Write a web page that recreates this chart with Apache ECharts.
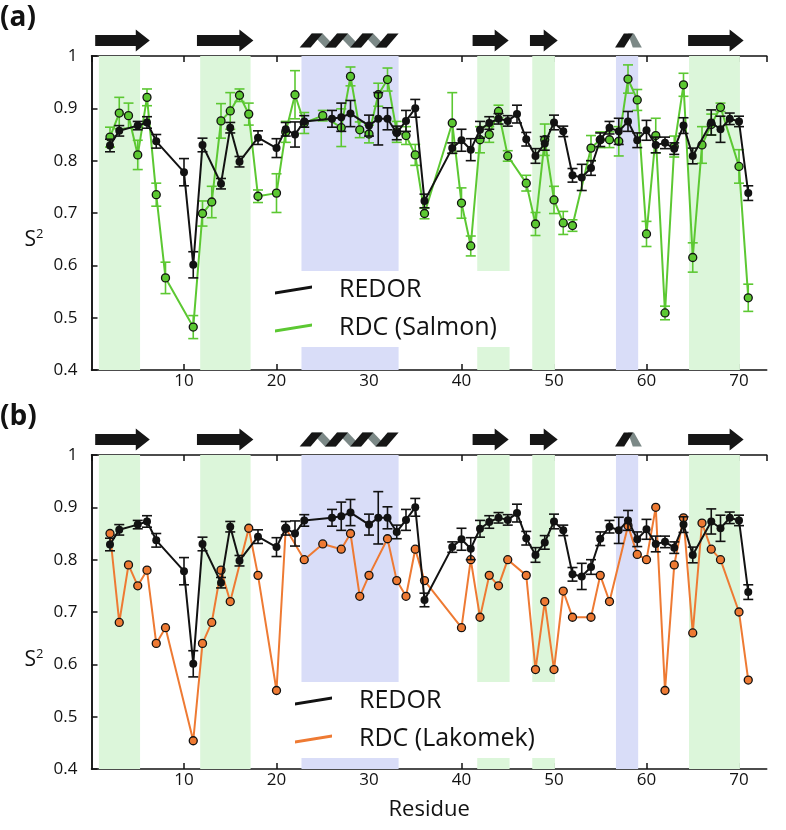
<!DOCTYPE html>
<html><head><meta charset="utf-8">
<script src="https://cdn.jsdelivr.net/npm/echarts@6/dist/echarts.min.js"></script>
<style>html,body{margin:0;padding:0;background:#fff}#c{width:786px;height:830px}</style>
</head><body><div id="c"></div>
<script>
// ---------------- data ----------------
const xMin = 0, xMax = 73, xStep = 10;
const yMin = 0.4, yMax = 1, yStep = 0.1;

const redorRes = [2,3,5,6,7,10,11,12,14,15,16,18,20,21,22,23,26,27,28,30,31,32,33,34,35,36,39,40,41,42,43,44,45,46,47,48,49,50,51,52,53,54,55,56,57,58,59,60,61,62,63,64,65,67,68,69,70,71];
const redorS2 = [0.829,0.857,0.867,0.873,0.837,0.778,0.601,0.830,0.756,0.863,0.798,0.844,0.824,0.860,0.850,0.875,0.880,0.883,0.890,0.867,0.880,0.880,0.853,0.876,0.900,0.723,0.824,0.839,0.821,0.859,0.872,0.880,0.876,0.889,0.841,0.809,0.833,0.873,0.856,0.772,0.768,0.786,0.840,0.863,0.856,0.875,0.839,0.858,0.830,0.834,0.823,0.867,0.809,0.873,0.860,0.880,0.875,0.738];
const redorErr = [0.012,0.010,0.008,0.011,0.013,0.026,0.025,0.013,0.010,0.010,0.010,0.013,0.018,0.013,0.024,0.011,0.016,0.027,0.025,0.020,0.050,0.021,0.013,0.020,0.017,0.013,0.010,0.021,0.021,0.016,0.012,0.010,0.010,0.017,0.013,0.014,0.013,0.014,0.010,0.013,0.025,0.014,0.013,0.012,0.025,0.019,0.014,0.019,0.015,0.011,0.011,0.015,0.015,0.024,0.025,0.011,0.010,0.014];

const salmonRes = [2,3,4,5,6,7,8,11,12,13,14,15,16,17,18,20,21,22,23,25,27,28,29,30,31,32,33,34,35,36,39,40,41,42,43,44,45,47,48,49,50,51,52,54,55,56,57,58,59,60,61,62,63,64,65,66,67,68,70,71];
const salmonS2 = [0.845,0.891,0.886,0.811,0.921,0.735,0.576,0.482,0.699,0.721,0.876,0.895,0.925,0.889,0.732,0.738,0.855,0.926,0.872,0.886,0.863,0.961,0.859,0.851,0.926,0.955,0.855,0.848,0.811,0.699,0.872,0.719,0.637,0.840,0.850,0.894,0.809,0.757,0.679,0.840,0.725,0.681,0.676,0.824,0.840,0.840,0.837,0.956,0.916,0.660,0.848,0.509,0.827,0.945,0.615,0.830,0.869,0.902,0.789,0.538];
const salmonErr = [0.019,0.030,0.024,0.028,0.016,0.022,0.030,0.022,0.024,0.030,0.033,0.035,0.012,0.021,0.012,0.037,0.020,0.046,0.020,0.010,0.036,0.018,0.015,0.017,0.022,0.022,0.020,0.017,0.020,0.010,0.058,0.029,0.019,0.025,0.015,0.012,0.010,0.015,0.022,0.030,0.026,0.022,0.011,0.024,0.015,0.015,0.028,0.027,0.020,0.024,0.033,0.013,0.020,0.022,0.028,0.035,0.020,0.008,0.032,0.026];

const lakomekRes = [2,3,4,5,6,7,8,11,12,13,14,15,17,18,20,21,23,25,27,28,29,30,32,33,34,35,36,40,41,42,43,44,45,47,48,49,50,51,52,54,55,56,58,59,60,61,62,63,64,65,66,67,68,70,71];
const lakomekS2 = [0.85,0.68,0.79,0.75,0.78,0.64,0.67,0.454,0.64,0.68,0.78,0.72,0.86,0.77,0.55,0.86,0.80,0.83,0.82,0.85,0.73,0.77,0.84,0.76,0.73,0.82,0.76,0.67,0.80,0.69,0.77,0.75,0.80,0.77,0.59,0.72,0.59,0.74,0.69,0.69,0.77,0.72,0.865,0.81,0.80,0.90,0.55,0.79,0.88,0.66,0.87,0.82,0.80,0.70,0.57];

const greenBands = [[0.8,5.25],[11.75,17.2],[41.7,45.2],[47.65,50.1],[64.6,70.1]];
const blueBands = [[22.7,33.2],[56.7,59.1]];
const strands = [[0.4,6.3],[11.4,17.5],[41.2,45.1],[47.4,50.4],[64.5,70.5]];
const helices = [[22.5,33.2,4],[56.6,59.5,1]];

const seriesNames = ['REDOR','RDC (Salmon)','RDC (Lakomek)'];
const panelLabels = ['(a)','(b)'];
const xAxisTitle = 'Residue';

// ---------------- style ----------------
const FONT = '"Open Sans", "Noto Sans", sans-serif';
const BLACK = '#121212', GREEN = '#5cc832', ORANGE = '#ee7a33';
const GREEN_BAND = '#dcf6da', BLUE_BAND = '#d9ddf8';
const GRID_TOPS = [56, 455], GRID_H = 314, GRID_L = 91.5, GRID_W = 675.25;

const pts = (xs, ys) => xs.map((x, i) => [x, ys[i]]);
const errPts = (xs, ys, es) => xs.map((x, i) => [x, +(ys[i] - es[i]).toFixed(4), +(ys[i] + es[i]).toFixed(4)]);

function errRender(color) {
  return function (params, api) {
    const x = api.value(0);
    const a = api.coord([x, api.value(1)]);
    const b = api.coord([x, api.value(2)]);
    const w = 5, st = {stroke: color, lineWidth: 1.6};
    return {type: 'group', children: [
      {type: 'line', shape: {x1: a[0], y1: a[1], x2: b[0], y2: b[1]}, style: st},
      {type: 'line', shape: {x1: a[0] - w, y1: a[1], x2: a[0] + w, y2: a[1]}, style: st},
      {type: 'line', shape: {x1: b[0] - w, y1: b[1], x2: b[0] + w, y2: b[1]}, style: st}
    ]};
  };
}

function ssRender(params, api) {
  const p0 = api.coord([api.value(0), yMax]);
  const p1 = api.coord([api.value(1), yMax]);
  const x0 = p0[0], x1 = p1[0];
  const yc = p0[1] - 15.5;
  const kind = api.value(2);
  const dark = '#161616', grey = '#7c8987';
  if (kind === 0) {
    const hl = 14, bh = 5.5, hh = 11;
    return {type: 'polygon', shape: {points: [[x0, yc - bh], [x1 - hl, yc - bh], [x1 - hl, yc - hh], [x1, yc], [x1 - hl, yc + hh], [x1 - hl, yc + bh], [x0, yc + bh]]}, style: {fill: dark}};
  }
  const n = api.value(3);
  const yt = yc - 7, yb = yc + 7;
  const backs = [], fronts = [];
  if (n > 1) {
    const fw = 11, sl = 12, p = (x1 - x0 - fw - sl) / (n - 1);
    for (let k = 0; k < n; k++) {
      const bx = x0 + k * p;
      if (k < n - 1) backs.push({type: 'polygon', shape: {points: [[bx + sl, yt], [bx + sl + fw, yt], [bx + p + fw, yb], [bx + p, yb]]}, style: {fill: grey}});
      fronts.push({type: 'polygon', shape: {points: [[bx, yb], [bx + fw, yb], [bx + sl + fw, yt], [bx + sl, yt]]}, style: {fill: dark}});
    }
  } else {
    const W = x1 - x0, fw = W * 0.34, sl = W * 0.33;
    backs.push({type: 'polygon', shape: {points: [[x0 + sl + fw * 0.45, yt], [x0 + sl + fw * 1.1, yt], [x1, yb], [x1 - fw, yb]]}, style: {fill: grey}});
    fronts.push({type: 'polygon', shape: {points: [[x0, yb], [x0 + fw, yb], [x0 + sl + fw, yt], [x0 + sl, yt]]}, style: {fill: dark}});
  }
  return {type: 'group', children: backs.concat(fronts)};
}

const ssData = strands.map(s => [s[0], s[1], 0, 0]).concat(helices.map(h => [h[0], h[1], 1, h[2]]));
const bandData = greenBands.map(b => [{xAxis: b[0], yAxis: yMin, itemStyle: {color: GREEN_BAND}}, {xAxis: b[1], yAxis: yMax}])
  .concat(blueBands.map(b => [{xAxis: b[0], yAxis: yMin, itemStyle: {color: BLUE_BAND}}, {xAxis: b[1], yAxis: yMax}]));

const axisLineStyle = {lineStyle: {color: BLACK, width: 1.5}};
function xBottom(gi, withName) {
  return {
    type: 'value', gridIndex: gi, position: 'bottom', min: xMin, max: xMax, interval: xStep,
    axisLine: {show: true, ...axisLineStyle}, axisTick: {show: true, inside: true, length: 6, lineStyle: {color: BLACK, width: 1.5}},
    axisLabel: {show: true, margin: 3, color: BLACK, fontSize: 17, fontFamily: FONT, showMaxLabel: false, showMinLabel: false,
      formatter: v => (v === 0 || v % xStep !== 0 ? '' : String(v))},
    splitLine: {show: false},
    name: withName ? xAxisTitle : '', nameLocation: 'middle', nameGap: 30,
    nameTextStyle: {fontSize: 22, color: BLACK, fontFamily: FONT}
  };
}
function xTop(gi) {
  return {
    type: 'value', gridIndex: gi, position: 'top', min: xMin, max: xMax, interval: xStep,
    axisLine: {show: true, ...axisLineStyle}, axisTick: {show: true, inside: true, length: 6, lineStyle: {color: BLACK, width: 1.5}},
    axisLabel: {show: false}, splitLine: {show: false}
  };
}
function yLeft(gi, padTop) {
  return {
    type: 'value', gridIndex: gi, position: 'left', min: yMin, max: yMax, interval: yStep,
    axisLine: {show: true, ...axisLineStyle}, axisTick: {show: true, inside: true, length: 6, lineStyle: {color: BLACK, width: 1.5}},
    axisLabel: {margin: 14, color: BLACK, fontSize: 17, fontFamily: FONT, formatter: v => (Math.abs(v - 1) < 1e-9 ? '1' : v.toFixed(1))},
    splitLine: {show: false},
    name: '{s|S}{sup|2}', nameLocation: 'middle', nameRotate: 0, nameGap: 48,
    nameTextStyle: {color: BLACK, fontFamily: FONT, padding: [padTop, 0, 0, 0],
      rich: {s: {fontSize: 21, lineHeight: 24, fontFamily: FONT, color: BLACK}, sup: {fontSize: 13, lineHeight: 13, verticalAlign: 'top', fontFamily: FONT, color: BLACK}}}
  };
}
function yRight(gi) {
  return {
    type: 'value', gridIndex: gi, position: 'right', min: yMin, max: yMax, interval: yStep,
    axisLine: {show: true, ...axisLineStyle}, axisTick: {show: false}, axisLabel: {show: false}, splitLine: {show: false}
  };
}

function lineSeries(name, xi, yi, data, color, z, border) {
  return {
    name, type: 'line', xAxisIndex: xi, yAxisIndex: yi, data, z, silent: true,
    symbol: 'circle', symbolSize: 8, showSymbol: true,
    lineStyle: {color, width: 2},
    itemStyle: {color, borderColor: BLACK, borderWidth: border},
    emphasis: {disabled: true}
  };
}
function errSeries(xi, yi, data, color, z) {
  return {type: 'custom', xAxisIndex: xi, yAxisIndex: yi, data, z, silent: true,
    renderItem: errRender(color), encode: {x: 0, y: [1, 2]}};
}
function bandSeries(xi, yi) {
  return {type: 'line', xAxisIndex: xi, yAxisIndex: yi, data: [], z: 1, silent: true,
    markArea: {silent: true, data: bandData}};
}
function ssSeries(xi, yi) {
  return {type: 'custom', xAxisIndex: xi, yAxisIndex: yi, data: ssData, z: 5, silent: true,
    renderItem: ssRender, encode: {x: [0, 1]}, clip: false};
}

const legendIcon = 'path://M0,6L37,0L37,3L0,9Z';
function legendCfg(left, top, names, colors, padRight) {
  return {
    orient: 'vertical', left, top, padding: [4, padRight, 4, 10], itemGap: 8,
    itemWidth: 37, itemHeight: 9, backgroundColor: '#ffffff', selectedMode: false, z: 10,
    icon: legendIcon,
    textStyle: {fontSize: 25, fontFamily: FONT, color: BLACK, lineHeight: 30, padding: [0, 0, 0, 22]},
    data: names.map((n, i) => ({name: n, icon: legendIcon, itemStyle: {color: colors[i], borderWidth: 0}}))
  };
}

const option = {
  animation: false,
  backgroundColor: '#ffffff',
  title: panelLabels.map((t, i) => ({text: t, left: 0, top: i === 0 ? 4 : 403, padding: 0,
    textStyle: {fontSize: 28, fontWeight: 'bold', color: BLACK, fontFamily: FONT}})),
  grid: GRID_TOPS.map(t => ({left: GRID_L, width: GRID_W, top: t, height: GRID_H, containLabel: false})),
  xAxis: [xBottom(0, false), xTop(0), xBottom(1, true), xTop(1)],
  yAxis: [yLeft(0, 54), yRight(0), yLeft(1, 96), yRight(1)],
  legend: [
    legendCfg(265, 271, [seriesNames[0], seriesNames[1]], [BLACK, GREEN], 15),
    legendCfg(285, 682, [seriesNames[0], seriesNames[2]], [BLACK, ORANGE], 20)
  ],
  series: [
    bandSeries(0, 0),
    errSeries(0, 0, errPts(salmonRes, salmonS2, salmonErr), GREEN, 2),
    lineSeries(seriesNames[1], 0, 0, pts(salmonRes, salmonS2), GREEN, 3, 1.3),
    errSeries(0, 0, errPts(redorRes, redorS2, redorErr), BLACK, 4),
    lineSeries(seriesNames[0], 0, 0, pts(redorRes, redorS2), BLACK, 5, 0),
    ssSeries(0, 0),

    bandSeries(2, 2),
    lineSeries(seriesNames[2], 2, 2, pts(lakomekRes, lakomekS2), ORANGE, 3, 1.3),
    errSeries(2, 2, errPts(redorRes, redorS2, redorErr), BLACK, 4),
    lineSeries(seriesNames[0], 2, 2, pts(redorRes, redorS2), BLACK, 5, 0),
    ssSeries(2, 2)
  ]
};

const chart = echarts.init(document.getElementById('c'), null, {renderer: 'canvas'});
chart.setOption(option);
</script></body></html>
